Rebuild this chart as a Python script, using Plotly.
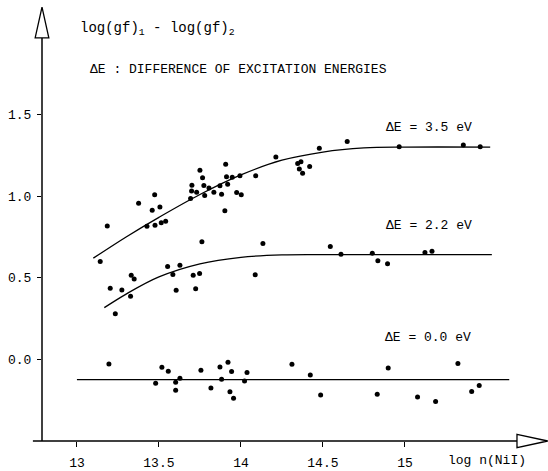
import plotly.graph_objects as go

# ---- data ----
x_35 = [13.185, 13.376, 13.474, 13.459, 13.506, 13.427, 13.476, 13.514, 13.541, 13.693,
        13.699, 13.701, 13.730, 13.750, 13.766, 13.774, 13.779, 13.805, 13.835, 13.872,
        13.882, 13.907, 13.902, 13.912, 13.919, 13.947, 13.974, 13.994, 14.002, 14.090,
        14.213, 14.346, 14.366, 14.356, 14.376, 14.419, 14.478, 14.648, 14.965, 15.356, 15.459]
y_35 = [0.817, 0.957, 1.008, 0.913, 0.933, 0.815, 0.821, 0.837, 0.846, 0.986,
        1.032, 1.067, 1.024, 1.159, 1.112, 1.065, 1.004, 1.049, 1.024, 1.063,
        1.012, 1.195, 0.910, 1.118, 1.073, 1.116, 1.022, 1.124, 1.008, 1.124,
        1.240, 1.199, 1.211, 1.166, 1.140, 1.181, 1.293, 1.335, 1.303, 1.313, 1.303]

x_22 = [13.142, 13.203, 13.234, 13.274, 13.327, 13.331, 13.349, 13.553, 13.585, 13.605,
        13.628, 13.709, 13.724, 13.748, 13.762, 14.087, 14.134, 14.545, 14.610, 14.801,
        14.835, 14.894, 15.122, 15.165]
y_22 = [0.600, 0.435, 0.279, 0.425, 0.386, 0.516, 0.492, 0.569, 0.520, 0.423,
        0.577, 0.516, 0.433, 0.526, 0.720, 0.518, 0.709, 0.691, 0.644, 0.650,
        0.604, 0.585, 0.654, 0.663]

x_00 = [13.195, 13.480, 13.518, 13.557, 13.602, 13.602, 13.628, 13.756, 13.817, 13.872,
        13.882, 13.921, 13.933, 13.943, 13.955, 14.022, 14.037, 14.311, 14.423, 14.486,
        14.831, 14.898, 15.077, 15.187, 15.323, 15.407, 15.453]
y_00 = [-0.028, -0.146, -0.049, -0.073, -0.140, -0.189, -0.116, -0.067, -0.175, -0.047,
        -0.122, -0.018, -0.199, -0.075, -0.238, -0.132, -0.081, -0.030, -0.096, -0.218,
        -0.213, -0.053, -0.230, -0.258, -0.026, -0.197, -0.160]

# fitted curves (read points)
cx_35 = [13.10, 13.30, 13.50, 13.75, 14.00, 14.25, 14.50, 14.75, 15.00, 15.52]
cy_35 = [0.62, 0.75, 0.87, 1.01, 1.13, 1.22, 1.27, 1.295, 1.30, 1.30]
cx_22 = [13.167, 13.30, 13.50, 13.75, 14.00, 14.25, 14.50, 15.53]
cy_22 = [0.317, 0.40, 0.505, 0.585, 0.625, 0.640, 0.642, 0.642]
cx_00 = [13.0, 15.636]
cy_00 = [-0.124, -0.124]

x_ticks = [13, 13.5, 14, 14.5, 15]
x_tick_text = ["13", "13.5", "14", "14.5", "15"]
y_ticks = [0.0, 0.5, 1.0, 1.5]
y_tick_text = ["0.0", "0.5", "1.0", "1.5"]

FONT = "Liberation Mono, Courier New, monospace"
X0, X1 = 12.787, 12.787 + 506 / 164
Y0, Y1 = -0.5, -0.5 + 443 / 164

fig = go.Figure()
for cx, cy in [(cx_35, cy_35), (cx_22, cy_22), (cx_00, cy_00)]:
    fig.add_trace(go.Scatter(x=cx, y=cy, mode="lines", line=dict(color="black", width=1.3, shape="spline"),
                             hoverinfo="skip", showlegend=False))
for xs, ys in [(x_35, y_35), (x_22, y_22), (x_00, y_00)]:
    fig.add_trace(go.Scatter(x=xs, y=ys, mode="markers", marker=dict(color="black", size=5),
                             showlegend=False))

# axes lines with hollow arrowheads (paper coordinates, not clipped)
shapes = [
    dict(type="line", xref="paper", yref="paper", x0=0, y0=0, x1=0, y1=0.915,
         line=dict(color="black", width=1.5)),
    dict(type="line", xref="paper", yref="paper", x0=-0.018, y0=0, x1=0.94, y1=0,
         line=dict(color="black", width=1.5)),
    dict(type="path", xref="paper", yref="paper",
         path="M -0.0135 0.914 L 0 0.984 L 0.0135 0.914 Z",
         fillcolor="white", line=dict(color="black", width=1.3)),
    dict(type="path", xref="paper", yref="paper",
         path="M 0.9387 0.0152 L 0.9995 0.0 L 0.9387 -0.0152 Z",
         fillcolor="white", line=dict(color="black", width=1.3)),
]

ann = [
    dict(x=13.006, y=2.024, text="log(gf)<sub>1</sub> - log(gf)<sub>2</sub>", size=14),
    dict(x=13.067, y=1.774, text="ΔE : DIFFERENCE OF EXCITATION ENERGIES", size=13),
    dict(x=14.872, y=1.421, text="ΔE = 3.5 eV", size=13),
    dict(x=14.872, y=0.817, text="ΔE = 2.2 eV", size=13),
    dict(x=14.866, y=0.134, text="ΔE = 0.0 eV", size=13),
]
annotations = [dict(x=a["x"], y=a["y"], xref="x", yref="y", text=a["text"], showarrow=False,
                    xanchor="left", yanchor="middle", font=dict(family=FONT, size=a["size"], color="black"))
               for a in ann]
annotations.append(dict(x=(446 - 42) / 506, y=(443 - 463) / 443, xref="paper", yref="paper",
                        text="log n(NiI)", showarrow=False, xanchor="left", yanchor="middle",
                        font=dict(family=FONT, size=13, color="black")))

fig.update_layout(
    width=548, height=471,
    margin=dict(l=42, r=0, t=0, b=28),
    paper_bgcolor="white", plot_bgcolor="white",
    shapes=shapes, annotations=annotations,
    font=dict(family=FONT, size=13, color="black"),
    xaxis=dict(range=[X0, X1], showgrid=False, zeroline=False, showline=False,
               tickvals=x_ticks, ticktext=x_tick_text, ticks="outside", ticklen=5,
               tickcolor="black", tickwidth=1.2, ticklabelstandoff=4),
    yaxis=dict(range=[Y0, Y1], showgrid=False, zeroline=False, showline=False,
               tickvals=y_ticks, ticktext=y_tick_text, ticks="outside", ticklen=4,
               tickcolor="black", tickwidth=1.2, ticklabelstandoff=3),
)

fig.write_html("out.html")
